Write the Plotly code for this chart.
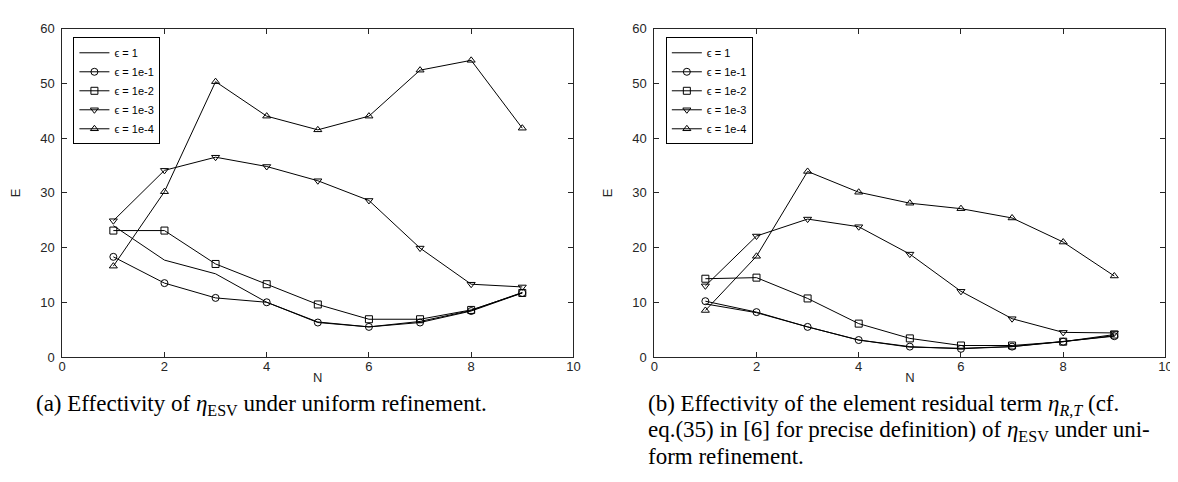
import plotly.graph_objects as go

# ---------------- data ----------------
N = [1, 2, 3, 4, 5, 6, 7, 8, 9]
series_names = ["ϵ = 1", "ϵ = 1e-1", "ϵ = 1e-2", "ϵ = 1e-3", "ϵ = 1e-4"]

# (a) Effectivity of eta_ESV
eps1_a = [24.0, 17.7, 15.2, 10.0, 6.4, 5.5, 6.5, 8.5, 11.8]
eps1e1_a = [18.3, 13.5, 10.8, 10.0, 6.3, 5.5, 6.3, 8.4, 11.7]
eps1e2_a = [23.1, 23.1, 17.0, 13.3, 9.6, 6.9, 6.9, 8.6, 11.7]
eps1e3_a = [24.9, 34.1, 36.5, 34.8, 32.2, 28.6, 19.9, 13.3, 12.8]
eps1e4_a = [16.6, 30.2, 50.3, 44.0, 41.5, 44.0, 52.4, 54.2, 41.8]

# (b) Effectivity of element residual term
eps1_b = [9.7, 8.1, 5.5, 3.1, 1.8, 1.6, 1.9, 2.8, 3.9]
eps1e1_b = [10.2, 8.2, 5.5, 3.1, 1.9, 1.5, 1.9, 2.8, 3.8]
eps1e2_b = [14.3, 14.5, 10.7, 6.1, 3.4, 2.1, 2.1, 2.8, 4.1]
eps1e3_b = [13.0, 22.1, 25.2, 23.8, 18.8, 12.0, 7.0, 4.5, 4.4]
eps1e4_b = [8.5, 18.4, 33.9, 30.1, 28.1, 27.1, 25.4, 21.0, 14.8]

x_ticks = [0, 2, 4, 6, 8, 10]
y_ticks = [0, 10, 20, 30, 40, 50, 60]

caption_a = "(a) Effectivity of <i>η</i><sub>ESV</sub> under uniform refinement."
caption_b = [
    "(b) Effectivity of the element residual term <i>η</i><sub><i>R,T</i></sub> (cf.",
    "eq.(35) in [6] for precise definition) of <i>η</i><sub>ESV</sub> under uni-",
    "form refinement.",
]

# ---------------- styling ----------------
W, H = 1178, 482
markers = [None, "circle-open", "square-open", "triangle-down-open", "triangle-up-open"]
AX_COLOR = "#262626"
TICK_FONT = dict(family="Liberation Sans, Arial, sans-serif", size=13, color=AX_COLOR)

left_dom = [50.7 / W, 566.7 / W]
right_dom = [648.3 / W, 1164.3 / W]
y_dom = [1 - 353 / H, 1 - 14 / H]

fig = go.Figure()

sets = [
    ("x", "y", "legend", [eps1_a, eps1e1_a, eps1e2_a, eps1e3_a, eps1e4_a]),
    ("x2", "y2", "legend2", [eps1_b, eps1e1_b, eps1e2_b, eps1e3_b, eps1e4_b]),
]
for xa, ya, leg, data in sets:
    for name, mk, vals in zip(series_names, markers, data):
        if mk is None:
            mode = "lines"
            marker = None
        else:
            mode = "lines+markers"
            marker = dict(symbol=mk, size=7, color="black", line=dict(width=1, color="black"))
        fig.add_trace(go.Scatter(
            x=N, y=vals, name=name, mode=mode, xaxis=xa, yaxis=ya, legend=leg,
            line=dict(color="black", width=1),
            marker=marker,
        ))

axis_common = dict(
    showgrid=False, zeroline=False, showline=True, linecolor=AX_COLOR,
    linewidth=1, mirror="ticks", ticks="inside", ticklen=5, tickcolor=AX_COLOR,
    tickwidth=1, tickfont=TICK_FONT,
)

fig.update_layout(
    width=W, height=H,
    margin=dict(l=0, r=0, t=0, b=0),
    paper_bgcolor="white", plot_bgcolor="white",
    showlegend=True,
    xaxis=dict(axis_common, domain=left_dom, range=[0, 10], tickvals=x_ticks, anchor="y",
               ticklabelstandoff=-3,
               title=dict(text="N", font=TICK_FONT, standoff=0)),
    yaxis=dict(axis_common, domain=y_dom, range=[0, 60], tickvals=y_ticks, anchor="x",
               ticklabelstandoff=4,
               title=dict(text="E", font=TICK_FONT, standoff=16)),
    xaxis2=dict(axis_common, domain=right_dom, range=[0, 10], tickvals=x_ticks, anchor="y2",
                ticklabelstandoff=-3,
                title=dict(text="N", font=TICK_FONT, standoff=0)),
    yaxis2=dict(axis_common, domain=y_dom, range=[0, 60], tickvals=y_ticks, anchor="x2",
                ticklabelstandoff=4,
                title=dict(text="E", font=TICK_FONT, standoff=16)),
    legend=dict(x=62 / W, y=1 - 23 / H, xanchor="left", yanchor="top",
                bgcolor="white", bordercolor="black", borderwidth=1,
                font=dict(family="Liberation Sans, Arial, sans-serif", size=11, color="black"),
                itemwidth=30, tracegroupgap=0),
    legend2=dict(x=660 / W, y=1 - 23 / H, xanchor="left", yanchor="top",
                 bgcolor="white", bordercolor="black", borderwidth=1,
                 font=dict(family="Liberation Sans, Arial, sans-serif", size=11, color="black"),
                 itemwidth=30, tracegroupgap=0),
)

CAP_FONT = dict(family="Liberation Serif, Times New Roman, serif", size=23, color="black")
annotations = [
    dict(text=caption_a, x=22 / W, y=1 - 403 / H, xref="paper", yref="paper",
         xanchor="left", yanchor="middle", showarrow=False, font=CAP_FONT),
]
for i, line in enumerate(caption_b):
    annotations.append(dict(text=line, x=640 / W, y=1 - (403 + 26.5 * i) / H,
                            xref="paper", yref="paper", xanchor="left", yanchor="middle",
                            showarrow=False, font=CAP_FONT))
fig.update_layout(annotations=annotations)

fig.write_html("out.html")
